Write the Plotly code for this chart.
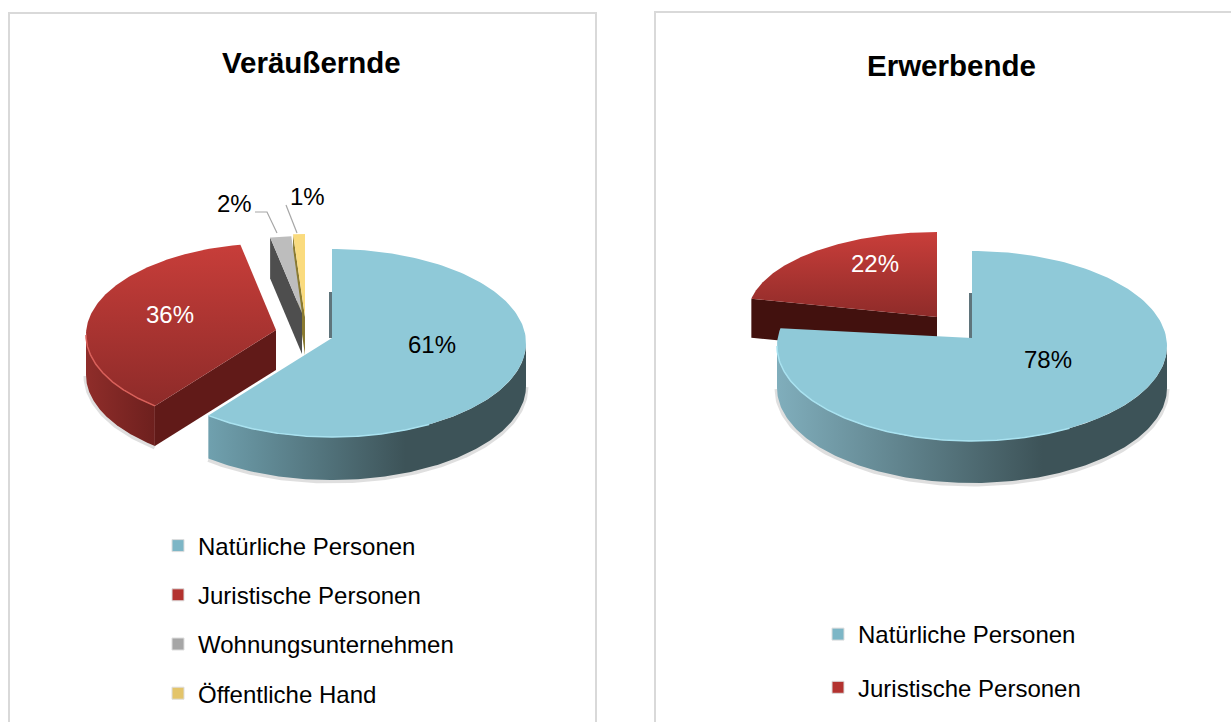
import numpy as np
import plotly.graph_objects as go

# ---- data ----
CATEGORIES_LEFT = ["Natürliche Personen", "Juristische Personen", "Wohnungsunternehmen", "Öffentliche Hand"]
VALUES_LEFT = [61, 36, 2, 1]
CATEGORIES_RIGHT = ["Natürliche Personen", "Juristische Personen"]
VALUES_RIGHT = [78, 22]
TITLE_LEFT = "Veräußernde"
TITLE_RIGHT = "Erwerbende"

FONT = "Liberation Sans"
TEAL, RED, GRAY, YELLOW = "#8FC9D8", "#C0392F", "#BDBDBD", "#FADB7E"
LEG = ["#7DB6C6", "#B3322F", "#A6A6A6", "#E3C46A"]

# ---- geometry of the tilted drawing (ellipse centre, radii, apex shift, thickness) ----
GEOM_LEFT = [
    dict(c=(332, 343), r=(194, 94), apex=-5, d=43, face=TEAL, wall=("#70A1AF", "#3D5358", 207, 527, .62), cut=None, rim="#A9E2F0"),
    dict(c=(276, 335), r=(190, 92), apex=-5, d=40, face=("#C93E3A", "#8E2B29", 240, 405), wall=("#8F2D2A", "#6E201E", 86, 154, 1), cut="#611A18", rim="#D9605A"),
    dict(c=(302, 318), r=(170, 82), apex=-5, d=41, face=GRAY, wall=None, cut="#4E4E4E", rim=None),
    dict(c=(305, 322), r=(190, 88), apex=-5, d=38, face=YELLOW, wall=None, cut="#8A7A30", rim=None),
]
GEOM_RIGHT = [
    dict(c=(972, 346), r=(195, 95), apex=-8, d=42, face=TEAL, wall=("#80AEBC", "#3D5358", 777, 1167, .68), cut=None, rim="#A9E2F0"),
    dict(c=(937, 314), r=(189, 82), apex=3, d=39, face=("#C93E3A", "#8E2B29", 232, 318), wall=None, cut="#42110E", rim=None),
]

fig = go.Figure()


def arc(g, a0, a1, n=160):
    t = np.radians(np.linspace(a0, a1, n))
    return g["c"][0] + g["r"][0] * np.sin(t), g["c"][1] - g["r"][1] * np.cos(t)


def poly(x, y, fill=None, grad=None, opacity=1):
    kw = dict(fillcolor=fill) if grad is None else dict(fillgradient=grad)
    fig.add_trace(go.Scatter(x=list(x), y=list(y), mode="lines", fill="toself", line=dict(width=0),
                             opacity=opacity, hoverinfo="skip", showlegend=False, **kw))


def line(x, y, color, width):
    fig.add_trace(go.Scatter(x=list(x), y=list(y), mode="lines", line=dict(color=color, width=width),
                             hoverinfo="skip", showlegend=False))


def draw_pie(values, geoms):
    edges = np.concatenate([[0], np.cumsum(values)]) * 360.0 / sum(values)
    for i in reversed(range(len(values))):
        g, a0, a1 = geoms[i], edges[i], edges[i + 1]
        ax, ay = g["c"][0], g["c"][1] + g["apex"]
        x, y = arc(g, a0, a1)
        d = g["d"]
        # soft shadow below the rim
        lo, hi = max(a0, 90), min(a1, 270)
        if hi > lo:
            sx, sy = arc(g, lo, hi)
            line(sx, sy + d + 1, "rgba(110,110,110,0.22)", 5)
        # side wall on the front of the pie
        if hi > lo and g["wall"]:
            wx, wy = arc(g, lo, hi)
            c0, c1, s0, s1, mid = g["wall"]
            scale = [[0, c0], [mid, c1], [1, c1]] if mid < 1 else [[0, c0], [1, c1]]
            poly(np.r_[wx, wx[::-1]], np.r_[wy, wy[::-1] + d],
                 grad=dict(type="horizontal", colorscale=scale, start=s0, stop=s1))
        # cut wall along the starting edge
        if g["cut"]:
            poly([ax, x[0], x[0], ax], [ay, y[0], y[0] + d, ay + d], fill=g["cut"])
        # thin edge-on wall for the first slice
        if i == 0:
            line([ax - 1.5, ax - 1.5], [ay, y[0] + d], "#5F747B", 3)
        # top face
        fx, fy = np.r_[ax, x, ax], np.r_[ay, y, ay]
        if isinstance(g["face"], tuple):
            c0, c1, s0, s1 = g["face"]
            poly(fx, fy, grad=dict(type="vertical", colorscale=[[0, c0], [1, c1]], start=s0, stop=s1))
        else:
            poly(fx, fy, fill=g["face"])
        if g["rim"] and hi > lo:
            rx, ry = arc(g, max(lo, 150), hi)
            line(rx, ry, g["rim"], 1.5)


draw_pie(VALUES_LEFT, GEOM_LEFT)
draw_pie(VALUES_RIGHT, GEOM_RIGHT)


# ---- legends (legend-only entries) ----
def legend_entries(cats, colors, legend):
    for cat, col in zip(cats, colors):
        fig.add_trace(go.Scatter(x=[None], y=[None], mode="markers", name=cat, legend=legend, legendgroup=legend + cat,
                                 marker=dict(symbol="square", size=12, color=col, line=dict(color="#DDDDDD", width=1))))


legend_entries(CATEGORIES_LEFT, LEG, "legend")
legend_entries(CATEGORIES_RIGHT, LEG, "legend2")

text = lambda x, y, s, size=24, color="#000000", bold=False: dict(
    x=x, y=y, xref="x", yref="y", text=f"<b>{s}</b>" if bold else s, showarrow=False,
    font=dict(family=FONT, size=size, color=color), xanchor="center", yanchor="middle")

annotations = [
    text(311, 62, TITLE_LEFT, 29.5, bold=True),
    text(951, 65, TITLE_RIGHT, 29.5, bold=True),
    text(432, 344, f"{VALUES_LEFT[0]}%"),
    text(170, 314, f"{VALUES_LEFT[1]}%", color="#FFFFFF"),
    text(234, 203, f"{VALUES_LEFT[2]}%"),
    text(307, 196, f"{VALUES_LEFT[3]}%"),
    text(1048, 359, f"{VALUES_RIGHT[0]}%"),
    text(875, 263, f"{VALUES_RIGHT[1]}%", color="#FFFFFF"),
]

shapes = [
    dict(type="path", path="M 9 740 L 9 13 L 596 13 L 596 740", line=dict(color="#D9D9D9", width=2), layer="below"),
    dict(type="path", path="M 655 740 L 655 12 L 1240 12", line=dict(color="#D9D9D9", width=2), layer="below"),
    dict(type="path", path="M 255 212 L 267 212 L 277 233", line=dict(color="#A6A6A6", width=1.2)),
    dict(type="path", path="M 286 205 L 297 233", line=dict(color="#A6A6A6", width=1.2)),
]

legend_font = dict(family=FONT, size=24, color="#000000")
fig.update_layout(
    width=1231, height=722, margin=dict(l=0, r=0, t=0, b=0), paper_bgcolor="#FFFFFF", plot_bgcolor="#FFFFFF",
    xaxis=dict(range=[0, 1231], visible=False, fixedrange=True),
    yaxis=dict(range=[722, 0], visible=False, fixedrange=True),
    annotations=annotations, shapes=shapes, hovermode=False,
    legend=dict(x=158 / 1231, y=1 - 523.5 / 722, xanchor="left", yanchor="top", font=legend_font,
                tracegroupgap=15, bgcolor="rgba(0,0,0,0)", itemclick=False, itemdoubleclick=False),
    legend2=dict(x=818 / 1231, y=1 - 612 / 722, xanchor="left", yanchor="top", font=legend_font,
                 tracegroupgap=19, bgcolor="rgba(0,0,0,0)", itemclick=False, itemdoubleclick=False),
)

fig.write_html("out.html", config=dict(displayModeBar=False), post_script="document.body.style.margin='0';")
